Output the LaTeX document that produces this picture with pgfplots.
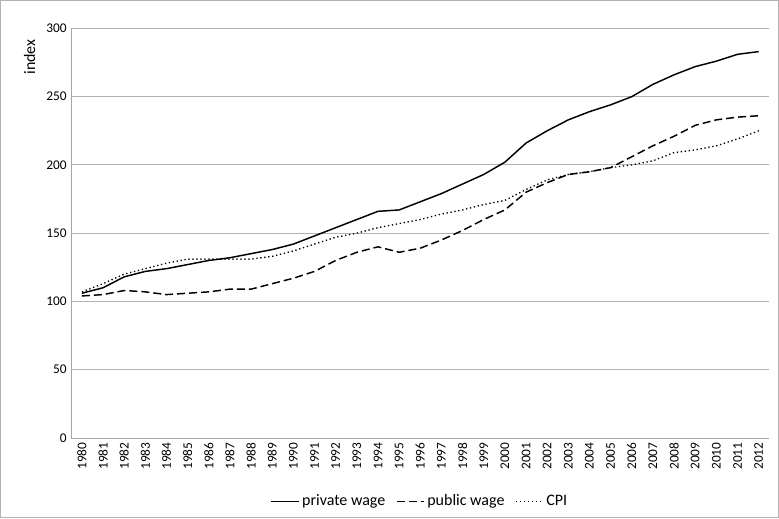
\documentclass[border=0pt]{standalone}
\usepackage{pgfplots}
\pgfplotsset{compat=1.18}
\usepackage{fontspec}
\setmainfont{Carlito}
\begin{document}
\begin{tikzpicture}
\draw[gray!60,line width=0.6pt] (0,0) rectangle (779pt*0.75,518pt*0.75);
\begin{axis}[at={(53.25pt,60pt)},anchor=south west,scale only axis,
 width=524pt,height=307.5pt,
 xmin=1979.5,xmax=2012.5,ymin=0,ymax=300,
 axis x line*=bottom, axis y line*=left,
 x axis line style={draw=gray!70,-}, y axis line style={draw=gray!70,-},
 ytick={0,50,...,300}, ymajorgrids, grid style={gray!60,line width=0.6pt},
 xtick={1980,...,2012}, xticklabel style={rotate=90,anchor=east,font=\normalsize},
 yticklabel style={font=\normalsize},
 x tick label style={/pgf/number format/1000 sep=},
 /pgf/number format/assume math mode=true,
 major tick length=0pt,
 ylabel={index}, ylabel style={font=\large,at={(axis description cs:-0.045,0.93)},anchor=south},
 legend style={at={(0.5,-0.125)},anchor=north,draw=none,legend columns=3,font=\large,/tikz/every even column/.append style={column sep=6pt}},
 legend image post style={xscale=1.2}]
\addplot[black,line width=1.1pt,solid] coordinates {(1980,106)(1981,110)(1982,118)(1983,122)(1984,124)(1985,127)(1986,130)(1987,132)(1988,135)(1989,138)(1990,142)(1991,148)(1992,154)(1993,160)(1994,166)(1995,167)(1996,173)(1997,179)(1998,186)(1999,193)(2000,202)(2001,216)(2002,225)(2003,233)(2004,239)(2005,244)(2006,250)(2007,259)(2008,266)(2009,272)(2010,276)(2011,281)(2012,283)};
\addlegendentry{private wage}
\addplot[black,line width=1.1pt,dash pattern=on 6pt off 3pt] coordinates {(1980,104)(1981,105)(1982,108)(1983,107)(1984,105)(1985,106)(1986,107)(1987,109)(1988,109)(1989,113)(1990,117)(1991,122)(1992,130)(1993,136)(1994,140)(1995,136)(1996,139)(1997,145)(1998,152)(1999,160)(2000,167)(2001,180)(2002,187)(2003,193)(2004,195)(2005,198)(2006,206)(2007,214)(2008,221)(2009,229)(2010,233)(2011,235)(2012,236)};
\addlegendentry{public wage}
\addplot[black,line width=1pt,dotted] coordinates {(1980,107)(1981,113)(1982,120)(1983,124)(1984,128)(1985,131)(1986,131)(1987,131)(1988,131)(1989,133)(1990,137)(1991,142)(1992,147)(1993,150)(1994,154)(1995,157)(1996,160)(1997,164)(1998,167)(1999,171)(2000,174)(2001,182)(2002,189)(2003,193)(2004,195)(2005,198)(2006,200)(2007,203)(2008,209)(2009,211)(2010,214)(2011,219)(2012,225)};
\addlegendentry{CPI}
\end{axis}
\end{tikzpicture}
\end{document}
